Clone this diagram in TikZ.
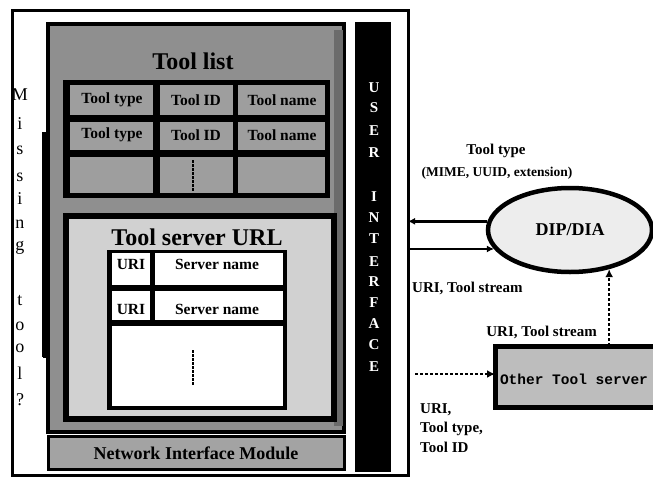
\documentclass[tikz,border=0pt]{standalone}
\usepackage{fontspec}
\setmainfont{Liberation Serif}
\setmonofont{Liberation Mono}
\usetikzlibrary{shapes.geometric,arrows.meta,calc}
\definecolor{panelgray}{gray}{0.56}
\definecolor{shadegray}{gray}{0.42}
\definecolor{cellgray}{gray}{0.62}
\definecolor{urlgray}{gray}{0.82}
\definecolor{nimgray}{gray}{0.64}
\definecolor{othergray}{gray}{0.74}
\definecolor{ellgray}{gray}{0.93}
\newcommand{\myfs}[1]{\fontsize{#1}{#1}\selectfont}
\begin{document}
\begin{tikzpicture}[x=1pt,y=-1pt,
  box/.style={rectangle, inner sep=0pt, outer sep=0pt},
  framebox/.style={box, draw=black, line width=3pt},
  panelbox/.style={box, draw=black, line width=3.5pt, fill=panelgray},
  urlbox/.style={box, draw=black, line width=6pt, fill=urlgray},
  blackbox/.style={box, fill=black},
  cellbox/.style={box, fill=cellgray},
  whitecell/.style={box, fill=white},
  celltxt/.style={inner sep=0pt, font=\myfs{15.5}\bfseries},
  titletxt/.style={inner sep=0pt, font=\myfs{24}\bfseries},
  uiletter/.style={inner sep=0pt, text=white, font=\myfs{15}\bfseries},
  missletter/.style={inner sep=0pt, font=\myfs{18}},
  lbl/.style={inner sep=0pt, font=\myfs{15}\bfseries},
  arr/.style={line width=2.5pt, -{Latex[length=7pt,width=7pt]}},
  dotarr/.style={line width=2.5pt, dash pattern=on 3pt off 2pt, -{Latex[length=8pt,width=8pt]}},
  vdots/.style={line width=2.5pt, dash pattern=on 2.5pt off 1.5pt}
]
\useasboundingbox (0,0) rectangle (653,477);
\fill[white] (0,0) rectangle (653,477);

% outer frame
\node[framebox, minimum width=396, minimum height=465] (frame) at (210,242.5) {};

% missing tool bar
\node[blackbox, minimum width=7, minimum height=225] (missbar) at (45,244.5) {};
\node[blackbox, minimum width=20, minimum height=5] (missfoot) at (53,355) {};

% tool list panel
\node[panelbox, minimum width=296, minimum height=408] (listpanel) at (196,228) {};
\node[box, fill=shadegray, minimum width=9, minimum height=396] (shade) at (338,228) {};
\node[titletxt] (tltitle) at (193,61) {Tool list};

% tool list table
\node[blackbox, minimum width=267, minimum height=118] (tltable) at (196.5,139) {};
\node[cellbox, minimum width=83, minimum height=30] (c11) at (111.5,100) {};
\node[cellbox, minimum width=73, minimum height=30] (c12) at (196.5,100) {};
\node[cellbox, minimum width=87, minimum height=30] (c13) at (281.5,100) {};
\node[cellbox, minimum width=83, minimum height=28] (c21) at (111.5,136) {};
\node[cellbox, minimum width=73, minimum height=28] (c22) at (196.5,136) {};
\node[cellbox, minimum width=87, minimum height=28] (c23) at (281.5,136) {};
\node[cellbox, minimum width=83, minimum height=36] (c31) at (111.5,175) {};
\node[cellbox, minimum width=73, minimum height=36] (c32) at (196.5,175) {};
\node[cellbox, minimum width=87, minimum height=36] (c33) at (281.5,175) {};
\node[celltxt] (t11) at (112,100) {Tool type};
\node[celltxt] (t12) at (196,100) {Tool ID};
\node[celltxt] (t13) at (282,100) {Tool name};
\node[celltxt] (t21) at (112,135) {Tool type};
\node[celltxt] (t22) at (196,135) {Tool ID};
\node[celltxt] (t23) at (282,135) {Tool name};
\draw[vdots] (193,160) -- (193,191);

% tool server URL panel
\node[urlbox, minimum width=268, minimum height=203] (urlpanel) at (200,317.5) {};
\node[titletxt] (urltitle) at (197,237) {Tool server URL};
\node[blackbox, minimum width=180, minimum height=160] (urltable) at (197,330) {};
\node[whitecell, minimum width=38, minimum height=32] (u11) at (131,269) {};
\node[whitecell, minimum width=128, minimum height=32] (u12) at (219,269) {};
\node[whitecell, minimum width=38, minimum height=29] (u21) at (131,305.5) {};
\node[whitecell, minimum width=128, minimum height=29] (u22) at (219,305.5) {};
\node[whitecell, minimum width=171, minimum height=80] (u3) at (197.5,366) {};
\node[celltxt] (ut11) at (131,264) {URI};
\node[celltxt] (ut12) at (217,264) {Server name};
\node[celltxt] (ut21) at (131,309) {URI};
\node[celltxt] (ut22) at (217,309) {Server name};
\draw[vdots] (193,350) -- (193,386);

% network interface module
\node[box, draw=black, line width=3pt, fill=nimgray, minimum width=296, minimum height=33,
      font=\myfs{18}\bfseries] (nim) at (196,453) {Network Interface Module};

% user interface bar
\node[blackbox, minimum width=36, minimum height=450] (uibar) at (373,247) {};
\foreach \c/\y [count=\i] in {U/88,S/108,E/131,R/153,I/197,N/218,T/239,E/262,R/282,F/303,A/324,C/345,E/367}
  \node[uiletter] (ui\i) at (374,\y) {\c};

% missing tool letters
\foreach \c/\y [count=\i] in {M/95,i/124,s/150,s/177,i/199,n/224,g/248,t/301,o/326,o/348,l/373,?/400}
  \node[missletter] (ms\i) at (20,\y) {\c};

% DIP/DIA
\node[ellipse, draw=black, line width=4.5pt, fill=ellgray, inner sep=0pt,
      minimum width=164, minimum height=84, font=\myfs{18}\bfseries] (dip) at (570,230) {DIP/DIA};
\node[lbl] (ttype) at (496,151) {Tool type};
\node[lbl, font=\myfs{13.5}\bfseries] (mime) at (497,173) {(MIME, UUID, extension)};
\draw[arr] (dip.174) -- (dip.174 -| frame.east);
\draw[arr] (frame.east |- dip.194) -- (dip.194);
\node[lbl, anchor=west] (stream1) at (412,288) {URI, Tool stream};

% other tool server
\node[box, draw=black, line width=5pt, fill=othergray, minimum width=170, minimum height=61] (other) at (580,376.5) {};
\node[inner sep=0pt, font=\myfs{14.5}\ttfamily\bfseries] (otherlbl) at (574,379) {Other Tool server};
\node[lbl, anchor=east] (stream2) at (597,332) {URI, Tool stream};
\draw[dotarr] (other.north -| dip.-45) -- (dip.-45);
\coordinate (dstart) at (415,374);
\draw[dotarr] (dstart) -- (other.west |- dstart);
\node[lbl, anchor=west] (q1) at (420,410) {URI,};
\node[lbl, anchor=west] (q2) at (420,429) {Tool type,};
\node[lbl, anchor=west] (q3) at (420,447) {Tool ID};
\end{tikzpicture}
\end{document}
